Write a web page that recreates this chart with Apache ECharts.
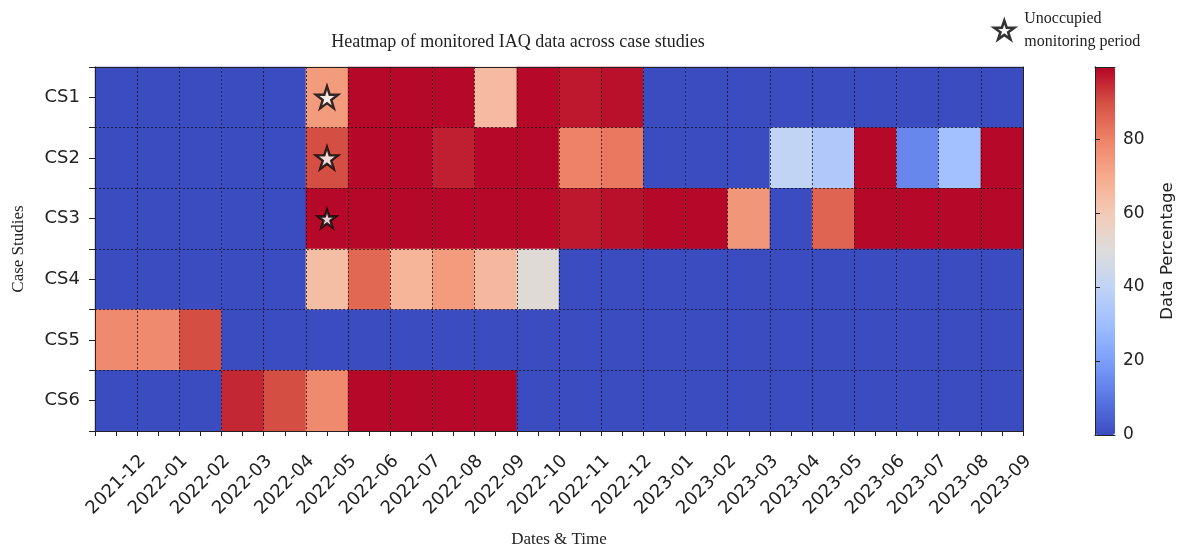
<!DOCTYPE html>
<html>
<head>
<meta charset="utf-8">
<title>Heatmap of monitored IAQ data across case studies</title>
<script src="https://cdn.jsdelivr.net/npm/echarts@6/dist/echarts.min.js"></script>
<style>
  html, body { margin: 0; padding: 0; background: #fff; }
  #chart { width: 1179px; height: 553px; }
</style>
</head>
<body>
<div id="chart"></div>
<script>
// Monthly columns
const months = ['2021-12','2022-01','2022-02','2022-03','2022-04','2022-05','2022-06','2022-07',
  '2022-08','2022-09','2022-10','2022-11','2022-12','2023-01','2023-02','2023-03','2023-04',
  '2023-05','2023-06','2023-07','2023-08','2023-09'];

// Case study rows
const cases = ['CS1','CS2','CS3','CS4','CS5','CS6'];

// Data percentage per case study, one value per month
const cs1 = [0,0,0,0,0,74,99,99,99,65,99,97,98,0,0,0,0,0,0,0,0,0];
const cs2 = [0,0,0,0,0,90,99,99,96,99,99,80,82,0,0,0,40,35,99,14,31,99];
const cs3 = [0,0,0,0,0,99,99,99,99,99,99,97,98,99,99,75,0,86,99,99,99,99];
const cs4 = [0,0,0,0,0,64,85,67,74,66,51,0,0,0,0,0,0,0,0,0,0,0];
const cs5 = [78,78,90,0,0,0,0,0,0,0,0,0,0,0,0,0,0,0,0,0,0,0];
const cs6 = [0,0,0,95,90,78,99,99,99,99,0,0,0,0,0,0,0,0,0,0,0,0];

// Cells recorded while the building was unoccupied
const unoccupied = [['2022-05','CS1'],['2022-05','CS2'],['2022-05','CS3']];

// Colour bar tick labels
const colorbarTicks = [0, 20, 40, 60, 80];
const colorMax = 99.5;

const rows = [cs1, cs2, cs3, cs4, cs5, cs6];
const cells = [];
rows.forEach((vals, r) => vals.forEach((v, c) => cells.push([c, r, v])));

// coolwarm diverging palette
const coolwarm = ['#3b4cc0','#5977e3','#7b9ff9','#9ebeff','#c0d4f5','#dddcdc',
  '#f2cbb7','#f7ac8e','#ee8468','#d65244','#b40426'];

const STAR = 'path://M50,0 L61.8,35.1 L98.9,35.1 L68.8,56.8 L80.3,91.9 L50,70.2 L19.7,91.9 L31.2,56.8 L1.1,35.1 L38.2,35.1 Z';

const sans = 'DejaVu Sans';
const serif = 'Liberation Serif';
const ink = '#222';

const G = { left: 95, top: 67, width: 928, height: 368 };
const CB = { left: 1095, top: 67, width: 20, height: 368 };

const chart = echarts.init(document.getElementById('chart'), null, { renderer: 'canvas' });

chart.setOption({
  animation: false,
  backgroundColor: '#fff',
  title: {
    text: 'Heatmap of monitored IAQ data across case studies',
    left: 513, top: 28, textAlign: 'center',
    textStyle: { fontFamily: serif, fontSize: 18, fontWeight: 'normal', color: ink }
  },
  legend: {
    data: ['Unoccupied\nmonitoring period'],
    left: 993, top: 7, padding: 0,
    icon: STAR, itemWidth: 20, itemHeight: 20, itemGap: 6,
    itemStyle: { color: '#fff', borderColor: '#000', borderWidth: 2.6 },
    textStyle: { fontFamily: serif, fontSize: 16, color: ink, lineHeight: 23, padding: [0, 0, 0, 5] },
    selectedMode: false
  },
  grid: [
    { left: G.left, top: G.top, width: G.width, height: G.height },
    { left: CB.left, top: CB.top, width: CB.width, height: CB.height }
  ],
  xAxis: [
    { // month labels, ticks on cell centres; rotated labels centred under their tick
      type: 'category', data: months, gridIndex: 0, position: 'bottom', z: 5,
      axisLine: { show: true, lineStyle: { color: ink, width: 1 } },
      axisTick: { show: true, alignWithLabel: true, length: 5, lineStyle: { color: ink } },
      axisLabel: { rotate: 45, margin: 54, align: 'center', verticalAlign: 'middle',
        fontFamily: sans, fontSize: 18, color: ink, interval: 0 },
      splitLine: { show: false },
      name: 'Dates & Time', nameLocation: 'middle', nameGap: 100,
      nameTextStyle: { fontFamily: serif, fontSize: 17, color: ink }
    },
    { // cell boundary ticks and dotted grid
      type: 'category', data: months, gridIndex: 0, position: 'bottom', z: 5,
      axisLine: { show: false },
      axisTick: { show: true, interval: 0, length: 5, lineStyle: { color: ink } },
      axisLabel: { show: false },
      splitLine: { show: true, interval: 0, lineStyle: { color: '#111', width: 1, type: [2, 2], opacity: 0.75 } }
    },
    { // top frame
      type: 'category', data: months, gridIndex: 0, position: 'top', z: 5,
      axisLine: { show: true, lineStyle: { color: ink, width: 1 } },
      axisTick: { show: false }, axisLabel: { show: false }, splitLine: { show: false }
    },
    { // colour bar bottom frame
      type: 'value', gridIndex: 1, min: 0, max: 1, position: 'bottom', z: 10,
      axisLine: { show: true, onZero: false, lineStyle: { color: ink, width: 1 } },
      axisTick: { show: false }, axisLabel: { show: false }, splitLine: { show: false }
    },
    { // colour bar top frame
      type: 'value', gridIndex: 1, min: 0, max: 1, position: 'top', z: 10,
      axisLine: { show: true, onZero: false, lineStyle: { color: ink, width: 1 } },
      axisTick: { show: false }, axisLabel: { show: false }, splitLine: { show: false }
    }
  ],
  yAxis: [
    { // case study labels
      type: 'category', data: cases, inverse: true, gridIndex: 0, position: 'left', z: 5,
      axisLine: { show: true, lineStyle: { color: ink, width: 1 } },
      axisTick: { show: true, alignWithLabel: true, length: 6, lineStyle: { color: ink } },
      axisLabel: { margin: 15, fontFamily: sans, fontSize: 18, color: ink },
      splitLine: { show: false },
      name: 'Case Studies', nameLocation: 'middle', nameGap: 68, nameRotate: 90,
      nameTextStyle: { fontFamily: serif, fontSize: 17, color: ink }
    },
    { // row boundary ticks and dotted grid
      type: 'category', data: cases, inverse: true, gridIndex: 0, position: 'left', z: 5,
      axisLine: { show: false },
      axisTick: { show: true, interval: 0, length: 6, lineStyle: { color: ink } },
      axisLabel: { show: false },
      splitLine: { show: true, interval: 0, lineStyle: { color: '#111', width: 1, type: [2, 2], opacity: 0.75 } }
    },
    { // right frame
      type: 'category', data: cases, inverse: true, gridIndex: 0, position: 'right', z: 5,
      axisLine: { show: true, lineStyle: { color: ink, width: 1 } },
      axisTick: { show: false }, axisLabel: { show: false }, splitLine: { show: false }
    },
    { // colour bar scale
      type: 'value', gridIndex: 1, min: 0, max: colorMax, position: 'right', z: 10,
      axisLine: { show: true, lineStyle: { color: ink, width: 1 } },
      axisTick: { show: true, length: 5, lineStyle: { color: ink }, customValues: colorbarTicks },
      axisLabel: { margin: 8, fontFamily: sans, fontSize: 17, color: ink, customValues: colorbarTicks },
      splitLine: { show: false },
      name: 'Data Percentage', nameLocation: 'middle', nameGap: 44, nameRotate: 90,
      nameTextStyle: { fontFamily: sans, fontSize: 16.5, color: ink }
    },
    { // colour bar left frame
      type: 'value', gridIndex: 1, min: 0, max: colorMax, position: 'left', z: 10,
      axisLine: { show: true, lineStyle: { color: ink, width: 1 } },
      axisTick: { show: false }, axisLabel: { show: false }, splitLine: { show: false }
    }
  ],
  visualMap: {
    type: 'continuous', min: 0, max: colorMax, seriesIndex: 0,
    left: CB.left, top: CB.top, itemWidth: CB.width, itemHeight: CB.height,
    padding: 0, calculable: false, hoverLink: false, text: null, showLabel: false,
    inRange: { color: coolwarm }
  },
  series: [
    {
      type: 'heatmap', xAxisIndex: 0, yAxisIndex: 0, data: cells, z: 2,
      itemStyle: { borderWidth: 0 },
      emphasis: { disabled: true }
    },
    {
      name: 'Unoccupied\nmonitoring period',
      type: 'scatter', xAxisIndex: 0, yAxisIndex: 0, z: 10,
      symbol: STAR,
      data: unoccupied.map((d, i) => ({ value: d, symbolSize: i === 2 ? 18 : 22 })),
      itemStyle: { color: '#fff', borderColor: '#000', borderWidth: 2.4 },
      emphasis: { disabled: true }
    }
  ]
});
</script>
</body>
</html>
